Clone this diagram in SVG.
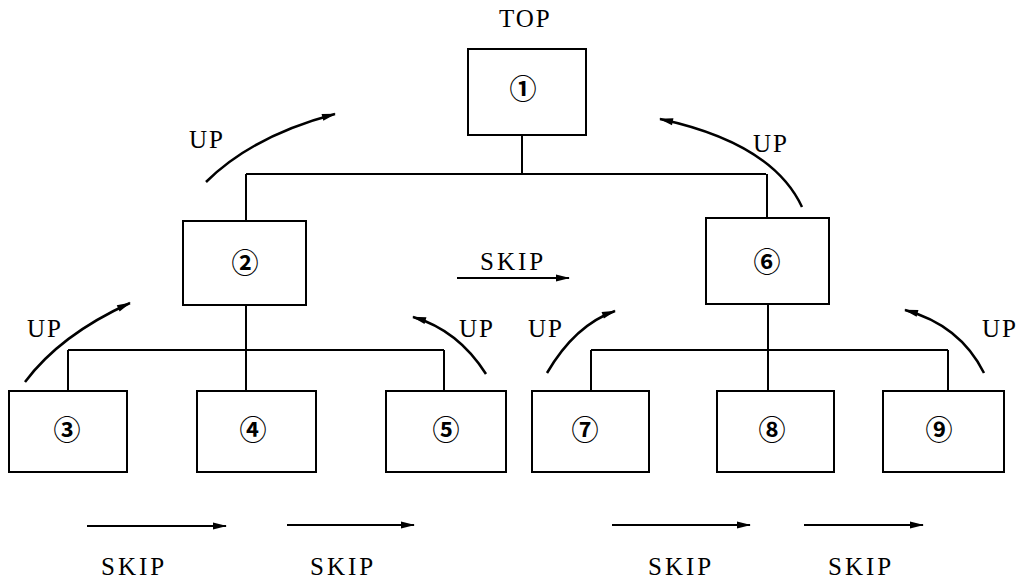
<svg xmlns="http://www.w3.org/2000/svg" width="1021" height="578" viewBox="0 0 1021 578">
<style>
.box{fill:#fff;stroke:#000;stroke-width:2}
.ln{fill:none;stroke:#000;stroke-width:2}
.arc{fill:none;stroke:#000;stroke-width:2.5;marker-end:url(#ah)}
.sk{fill:none;stroke:#000;stroke-width:2;marker-end:url(#ah)}
.lbl{font-family:"Liberation Serif",serif;font-size:25px;letter-spacing:2px;fill:#000}
.sl{letter-spacing:3px}
.num{font-family:"Noto Sans CJK JP","DejaVu Sans",sans-serif;font-size:27px;font-weight:700;fill:#000;text-anchor:middle}
</style>
<defs>
<marker id="ah" viewBox="0 0 14 10" refX="13" refY="5" markerWidth="14" markerHeight="10" markerUnits="userSpaceOnUse" orient="auto" overflow="visible">
<path d="M0,1.5 L14,5 L0,8.5 Z" fill="#000"/>
</marker>
</defs>
<g id="connectors">
<path class="ln" d="M522,135 V174 M246,174 H766 M246,174 V221 M767,174 V218"/>
<path class="ln" d="M246,305 V391 M68,350 H444 M68,350 V391 M444,350 V391"/>
<path class="ln" d="M768,304 V391 M591,350 H948 M591,350 V391 M948,350 V391"/>
<path class="arc" d="M206,182 Q252,136 335,114"/>
<path class="arc" d="M802,207 Q772,143 660,119"/>
<path class="arc" d="M25,382 Q60,335 130,303"/>
<path class="arc" d="M486,374 Q458,330 413,317"/>
<path class="arc" d="M547,373 Q575,325 615,311"/>
<path class="arc" d="M984,373 Q960,325 905,310"/>
<path class="sk" d="M457,278 H569"/>
<path class="sk" d="M87,526 H226"/>
<path class="sk" d="M287,525 H414"/>
<path class="sk" d="M612,525 H750"/>
<path class="sk" d="M804,525 H923"/>
</g>
<g id="n1"><rect class="box" x="468" y="49" width="118" height="86"/><text class="num" x="523" y="99">①</text></g>
<g id="n2"><rect class="box" x="183" y="221" width="123" height="84"/><text class="num" x="245" y="273">②</text></g>
<g id="n6"><rect class="box" x="706" y="218" width="123" height="86"/><text class="num" x="767" y="272">⑥</text></g>
<g id="n3"><rect class="box" x="9" y="391" width="118" height="81"/><text class="num" x="67" y="440">③</text></g>
<g id="n4"><rect class="box" x="197" y="391" width="119" height="81"/><text class="num" x="253" y="440">④</text></g>
<g id="n5"><rect class="box" x="386" y="391" width="120" height="81"/><text class="num" x="446" y="440">⑤</text></g>
<g id="n7"><rect class="box" x="532" y="391" width="117" height="81"/><text class="num" x="585" y="440">⑦</text></g>
<g id="n8"><rect class="box" x="717" y="391" width="117" height="81"/><text class="num" x="772" y="440">⑧</text></g>
<g id="n9"><rect class="box" x="883" y="391" width="121" height="81"/><text class="num" x="939" y="440">⑨</text></g>
<g id="labels">
<text class="lbl" x="499" y="27">TOP</text>
<text class="lbl" x="189" y="148">UP</text>
<text class="lbl" x="753" y="152">UP</text>
<text class="lbl" x="27" y="337">UP</text>
<text class="lbl" x="459" y="337">UP</text>
<text class="lbl" x="528" y="337">UP</text>
<text class="lbl" x="982" y="337">UP</text>
<text class="lbl sl" x="480" y="270">SKIP</text>
<text class="lbl sl" x="101" y="575">SKIP</text>
<text class="lbl sl" x="310" y="575">SKIP</text>
<text class="lbl sl" x="648" y="575">SKIP</text>
<text class="lbl sl" x="828" y="575">SKIP</text>
</g>
</svg>
